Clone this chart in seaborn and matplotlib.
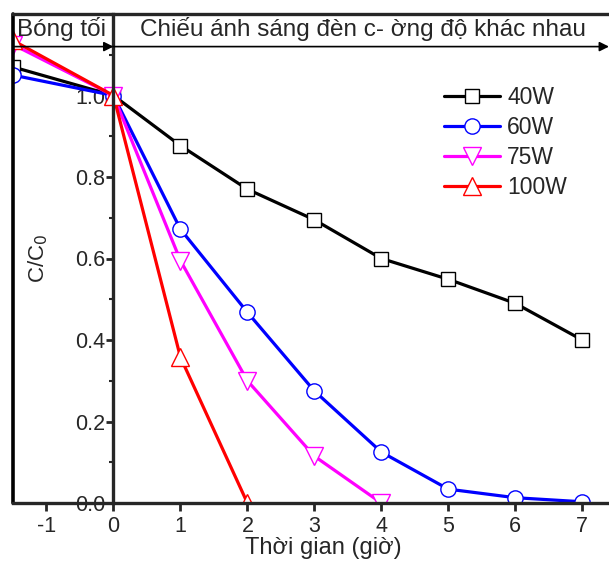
import matplotlib
matplotlib.use("Agg")
import matplotlib.pyplot as plt
import seaborn as sns
import pandas as pd
from matplotlib.ticker import MultipleLocator, FixedLocator

sns.set_style("ticks")
plt.rcParams['font.family'] = ['Liberation Sans', 'DejaVu Sans']

# ---- data ----
series_names = ["40W", "60W", "75W", "100W"]
t_40 = [-1.5, 0, 1, 2, 3, 4, 5, 6, 7]
v_40 = [1.07, 1.0, 0.877, 0.770, 0.695, 0.600, 0.549, 0.490, 0.400]
t_60 = [-1.5, 0, 1, 2, 3, 4, 5, 6, 7]
v_60 = [1.05, 1.0, 0.672, 0.468, 0.275, 0.125, 0.034, 0.013, 0.003]
t_75 = [-1.5, 0, 1, 2, 3, 4]
v_75 = [1.125, 1.0, 0.595, 0.300, 0.115, 0.0]
t_100 = [-1.5, 0, 1, 2]
v_100 = [1.135, 1.0, 0.358, 0.0]
x_ticks = [-1, 0, 1, 2, 3, 4, 5, 6, 7]
y_ticks = [0.0, 0.2, 0.4, 0.6, 0.8, 1.0]
header_left = "Bóng tối"
header_right = "Chiếu ánh sáng đèn c- ờng độ khác nhau"
x_label = "Thời gian (giờ)"
y_label = "C/C$_0$"

colors = {"40W": "black", "60W": "#0000ff", "75W": "#ff00ff", "100W": "#ff0000"}
markers = {"40W": "s", "60W": "o", "75W": "v", "100W": "^"}
msize = {"40W": 9.5, "60W": 11, "75W": 13, "100W": 13}

data = {"40W": (t_40, v_40), "60W": (t_60, v_60), "75W": (t_75, v_75), "100W": (t_100, v_100)}

fig = plt.figure(figsize=(6.09, 5.64), dpi=100)
ax = fig.add_axes([13/609, 61/564, 596/609, 489/564])

for name in series_names:
    t, v = data[name]
    df = pd.DataFrame({"t": t, "v": v})
    sns.lineplot(data=df, x="t", y="v", ax=ax, color=colors[name], linewidth=2.3,
                 marker=markers[name], markersize=msize[name], markerfacecolor="white",
                 markeredgecolor=colors[name], markeredgewidth=1.0, label=name,
                 estimator=None, sort=False)

ax.set_xlim(-1.5, 7.4)
ax.set_ylim(0, 1.2)

# spines
ax.spines['right'].set_visible(False)
ax.spines['left'].set_position(('data', 0))
for s in ['left', 'bottom', 'top']:
    ax.spines[s].set_linewidth(2.4)
ax.axvline(-1.5, color='black', linewidth=2.6, clip_on=False)

ax.xaxis.set_major_locator(FixedLocator(x_ticks))
ax.set_xticklabels([str(x) for x in x_ticks])
ax.yaxis.set_major_locator(FixedLocator(y_ticks))
ax.set_yticklabels([f"{y:.1f}" for y in y_ticks])
ax.yaxis.set_minor_locator(MultipleLocator(0.1))
ax.tick_params(axis='x', which='major', direction='out', length=6, width=2.0, labelsize=15.5, pad=3)
ax.tick_params(axis='y', which='major', direction='out', length=5, width=2.0, labelsize=15.5, pad=1)
ax.tick_params(axis='y', which='minor', direction='out', length=3, width=1.5)
ax.tick_params(top=False, right=False)

ax.set_xlabel(x_label, fontsize=17)
ax.xaxis.set_label_coords((323-13)/596, -(537-503)/489)
ax.set_ylabel(y_label, fontsize=16)
ax.yaxis.set_label_coords((50-13)/596, (503-258)/489)

# header
ax.annotate("", xy=(0, 1.12), xytext=(-1.5, 1.12),
            arrowprops=dict(arrowstyle="-|>", color="black", lw=1.2, mutation_scale=14,
                            shrinkA=0, shrinkB=0), annotation_clip=False)
ax.annotate("", xy=(7.4, 1.12), xytext=(0, 1.12),
            arrowprops=dict(arrowstyle="-|>", color="black", lw=1.2, mutation_scale=14,
                            shrinkA=0, shrinkB=0), annotation_clip=False)
ax.text(-0.77, 1.162, header_left, ha='center', va='center', fontsize=17.5)
ax.text(3.72, 1.162, header_right, ha='center', va='center', fontsize=17.5)

ax.legend(loc='upper left', bbox_to_anchor=((444-13)/596, (503-86)/489), frameon=False,
          fontsize=16.5, handlelength=2.45, handletextpad=0.3, labelspacing=0.3,
          borderpad=0, borderaxespad=0)

fig.savefig("out.png", dpi=100)
